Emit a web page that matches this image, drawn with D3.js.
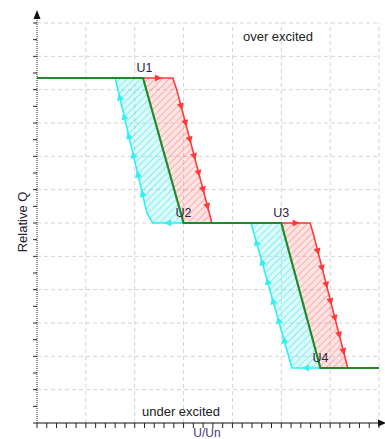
<!DOCTYPE html>
<html><head><meta charset="utf-8">
<script src="https://cdn.jsdelivr.net/npm/d3@7"></script>
<style>body{margin:0;background:#fff}svg{display:block}</style>
</head><body>
<script>
// ---- data (x: U/Un grid units, y: relative Q grid units) ----
const xGrid = [0,1,2,3,4,5,6,7];
const yGrid = [0,1,2,3,4,5,6,7,8,9,10,11,12];
const greenLine = [[0,10.35],[2.17,10.35],[3.0,6],[5.0,6],[5.8,1.65],[7.0,1.65]];
const red1 = [[2.17,10.35],[2.78,10.35],[2.86,10.0],[3.58,6],[3.0,6]];
const red2 = [[5.0,6],[5.59,6],[5.66,5.65],[6.36,1.65],[5.8,1.65]];
const cyan1 = [[3.0,6],[2.37,6],[2.25,6.3],[1.60,10.35],[2.17,10.35]];
const cyan2 = [[5.8,1.65],[5.22,1.65],[5.17,1.9],[4.38,6],[5.0,6]];
const labels = [{t:"U1",x:2.2,y:10.35},{t:"U2",x:3.0,y:6},{t:"U3",x:5.0,y:6},{t:"U4",x:5.8,y:1.65}];

const W=385,H=439;
const svg=d3.select("body").append("svg").attr("width",W).attr("height",H);
const x=d3.scaleLinear().domain([0,7]).range([37,379]);
const y=d3.scaleLinear().domain([0,12]).range([423,23]);

const defs=svg.append("defs");
function hatch(id,bg,line){
  const p=defs.append("pattern").attr("id",id).attr("patternUnits","userSpaceOnUse")
    .attr("width",5).attr("height",5).attr("patternTransform","rotate(45)");
  p.append("rect").attr("width",5).attr("height",5).attr("fill",bg);
  p.append("line").attr("x1",0).attr("y1",0).attr("x2",0).attr("y2",5).attr("stroke",line).attr("stroke-width",1.6);
}
hatch("hr","rgba(255,120,120,0.2)","rgba(255,110,110,0.6)");
hatch("hc","rgba(80,240,240,0.2)","rgba(60,220,230,0.65)");

// grid
svg.append("g").selectAll("line").data(yGrid.filter(d=>d>0)).join("line")
  .attr("x1",x(0)).attr("x2",x(7)).attr("y1",d=>y(d)).attr("y2",d=>y(d))
  .attr("stroke","#d4d4d4").attr("stroke-dasharray","4,3");
svg.append("g").selectAll("line").data(xGrid.filter(d=>d>0)).join("line")
  .attr("x1",d=>x(d)).attr("x2",d=>x(d)).attr("y1",y(0)).attr("y2",y(12))
  .attr("stroke","#d4d4d4").attr("stroke-dasharray","4,3");

const line=d3.line().x(d=>x(d[0])).y(d=>y(d[1]));

// areas
[[red1,"url(#hr)"],[red2,"url(#hr)"],[cyan1,"url(#hc)"],[cyan2,"url(#hc)"]].forEach(([d,f])=>{
  svg.append("path").attr("d",line(d)+"Z").attr("fill",f).attr("stroke","none");
});

// hysteresis paths (open, without closing back)
function drawPath(d,color,arrowCounts){
  const pts=d.slice(0,d.length-1);
  svg.append("path").attr("d",line(pts)).attr("fill","none").attr("stroke",color).attr("stroke-width",1.6);
  for(let i=0;i<pts.length-1;i++){
    const n=arrowCounts[i]; if(!n) continue;
    const x0=x(pts[i][0]),y0=y(pts[i][1]),x1=x(pts[i+1][0]),y1=y(pts[i+1][1]);
    const ang=Math.atan2(y1-y0,x1-x0)*180/Math.PI;
    for(let k=1;k<=n;k++){
      const t=k/(n+1);
      svg.append("path").attr("d","M4,0L-3,-3.5L-3,3.5Z").attr("fill",color)
        .attr("transform",`translate(${x0+(x1-x0)*t},${y0+(y1-y0)*t}) rotate(${ang})`);
    }
  }
}
drawPath(red1,"#ff3a3a",[1,0,7]);
drawPath(red2,"#ff3a3a",[1,0,7]);
drawPath(cyan1,"#2ef2f2",[1,0,6]);
drawPath(cyan2,"#2ef2f2",[1,0,6]);

// green characteristic
svg.append("path").attr("d",line(greenLine)).attr("fill","none").attr("stroke","#1e8a28").attr("stroke-width",2.2);

// labels
svg.append("g").selectAll("text").data(labels).join("text")
  .attr("x",d=>x(d.x)).attr("y",d=>y(d.y)-6).attr("text-anchor","middle")
  .attr("font-family","Liberation Sans, Arial, sans-serif").attr("font-size",12.5).attr("fill","#2a2440").text(d=>d.t);

// axes
const ax=svg.append("g");
ax.append("line").attr("x1",x(0)).attr("x2",x(0)).attr("y1",y(0)).attr("y2",18).attr("stroke","#222").attr("stroke-dasharray","1,1");
ax.append("path").attr("d",`M${x(0)},10L${x(0)-3.5},19L${x(0)+3.5},19Z`).attr("fill","#111");
const yMinor=d3.range(0,12.01,0.5);
ax.selectAll(".yt").data(yMinor).join("line").attr("x1",x(0)-4).attr("x2",x(0)).attr("y1",d=>y(d)).attr("y2",d=>y(d)).attr("stroke","#222");
ax.append("line").attr("x1",x(0)).attr("x2",381).attr("y1",y(0)).attr("y2",y(0)).attr("stroke","#111").attr("stroke-width",1.2);
ax.append("path").attr("d",`M386,${y(0)}L378,${y(0)-3.5}L378,${y(0)+3.5}Z`).attr("fill","#111");
const xMinor=d3.range(0,7.01,0.2);
ax.selectAll(".xt").data(xMinor).join("line").attr("x1",d=>x(d)).attr("x2",d=>x(d)).attr("y1",y(0)).attr("y2",y(0)+5).attr("stroke","#222");

// texts
const ff="Liberation Sans, Arial, sans-serif";
svg.append("text").attr("x",278).attr("y",41).attr("text-anchor","middle").attr("font-family",ff).attr("font-size",13).attr("fill","#222").text("over excited");
svg.append("text").attr("x",181).attr("y",416).attr("text-anchor","middle").attr("font-family",ff).attr("font-size",13).attr("fill","#222").text("under excited");
svg.append("text").attr("x",207).attr("y",437).attr("text-anchor","middle").attr("font-family",ff).attr("font-size",12).attr("fill","#4a3a7a").text("U/Un");
svg.append("text").attr("transform","translate(27,222) rotate(-90)").attr("text-anchor","middle").attr("font-family",ff).attr("font-size",13).attr("fill","#223").text("Relative Q");
</script>
</body></html>
